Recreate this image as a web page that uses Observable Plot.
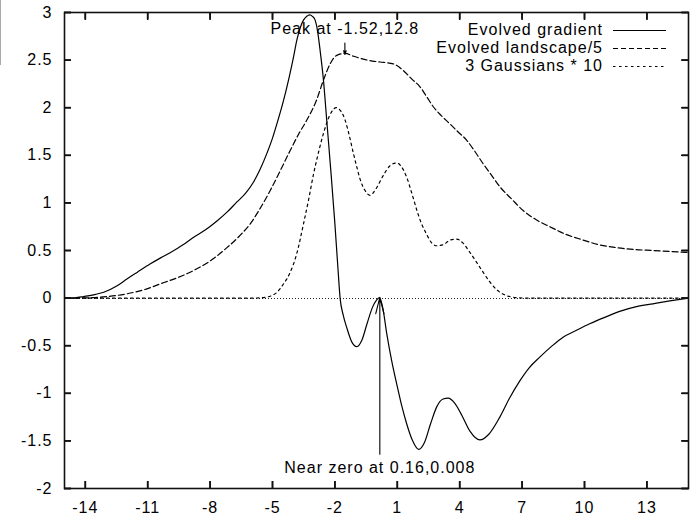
<!DOCTYPE html>
<html><head><meta charset="utf-8">
<script src="https://cdn.jsdelivr.net/npm/d3@7"></script>
<script src="https://cdn.jsdelivr.net/npm/@observablehq/plot@0.6"></script>
<style>
html,body{margin:0;padding:0;background:#fff;}
#wrap{position:relative;width:700px;height:519px;font-family:"Liberation Sans",Arial,sans-serif;color:#000;}
#legend{position:absolute;top:21px;right:34px;font-size:16px;letter-spacing:1px;}
.row{display:flex;align-items:center;justify-content:flex-end;height:18px;line-height:18px;}
.row svg{margin-left:10px;display:block;}
#edge{position:absolute;left:0;top:0;width:1px;height:65px;background:#aaa;}
</style></head><body>
<div id="wrap"><div id="edge"></div></div>
<script>
const xTicks = [-14, -11, -8, -5, -2, 1, 4, 7, 10, 13];
const yTicks = [-2, -1.5, -1, -0.5, 0, 0.5, 1, 1.5, 2, 2.5, 3];
const seriesNames = ["Evolved gradient", "Evolved landscape/5", "3 Gaussians * 10"];

const gradientX = [-15, -14.5, -14.07, -13.5, -13.11, -12.47, -12, -11.51, -10.87, -10.4, -9.9, -9.3, -8.79, -8.2, -7.67, -7.2, -6.71, -6.3, -5.91, -5.6, -5.27, -5.0, -4.79, -4.5, -4.23, -4.0, -3.83, -3.65, -3.51, -3.35, -3.22, -3.08, -2.95, -2.83, -2.71, -2.55, -2.39, -2.2, -2.0, -1.85, -1.75, -1.6, -1.43, -1.19, -0.95, -0.7, -0.47, -0.2, 0.0, 0.14, 0.3, 0.49, 0.75, 0.97, 1.2, 1.45, 1.7, 2.03, 2.3, 2.6, 2.9, 3.2, 3.45, 3.75, 4.1, 4.5, 4.97, 5.4, 5.93, 6.4, 6.89, 7.35, 7.85, 8.4, 8.97, 9.6, 10.25, 11.0, 11.69, 12.5, 13.29, 14.1, 15];
const gradientY = [0, 0.003, 0.017, 0.04, 0.062, 0.13, 0.2, 0.27, 0.36, 0.42, 0.48, 0.56, 0.64, 0.72, 0.81, 0.9, 1.01, 1.1, 1.22, 1.35, 1.52, 1.68, 1.83, 2.05, 2.29, 2.52, 2.71, 2.85, 2.92, 2.96, 2.975, 2.96, 2.92, 2.8, 2.6, 2.29, 1.86, 1.35, 0.78, 0.3, 0.0, -0.18, -0.31, -0.46, -0.51, -0.44, -0.28, -0.1, -0.02, 0.005, -0.1, -0.37, -0.68, -0.9, -1.12, -1.32, -1.48, -1.59, -1.52, -1.32, -1.14, -1.06, -1.05, -1.1, -1.23, -1.4, -1.49, -1.43, -1.25, -1.05, -0.87, -0.73, -0.62, -0.51, -0.41, -0.34, -0.27, -0.2, -0.14, -0.09, -0.06, -0.03, 0];

const landscapeX = [-15, -14, -13, -12, -11, -10.39, -9.5, -8.79, -8, -7.19, -6.6, -6.07, -5.6, -5.11, -4.6, -4.15, -3.75, -3.35, -2.9, -2.55, -2.23, -1.91, -1.51, -1.1, -0.63, -0.2, 0.17, 0.81, 1.0, 1.29, 1.7, 2.09, 2.4, 2.73, 3.1, 3.53, 3.9, 4.33, 4.7, 5.13, 5.5, 5.93, 6.5, 7.05, 7.7, 8.33, 9.1, 9.93, 10.7, 11.53, 12.4, 13.29, 14.1, 15];
const landscapeY = [0, 0.002, 0.015, 0.045, 0.1, 0.15, 0.22, 0.29, 0.39, 0.53, 0.65, 0.78, 0.94, 1.13, 1.35, 1.55, 1.72, 1.87, 2.07, 2.29, 2.46, 2.55, 2.57, 2.54, 2.51, 2.49, 2.48, 2.46, 2.44, 2.39, 2.3, 2.22, 2.12, 2.01, 1.92, 1.83, 1.75, 1.66, 1.55, 1.41, 1.3, 1.17, 1.04, 0.92, 0.82, 0.75, 0.67, 0.61, 0.56, 0.53, 0.51, 0.5, 0.49, 0.48];

const gaussX = [-15, -6, -5.3, -5.0, -4.79, -4.5, -4.15, -3.83, -3.51, -3.25, -3.03, -2.8, -2.55, -2.25, -1.94, -1.7, -1.51, -1.3, -1.11, -0.95, -0.79, -0.55, -0.31, -0.05, 0.33, 0.65, 0.97, 1.2, 1.45, 1.7, 1.93, 2.15, 2.41, 2.65, 2.89, 3.2, 3.55, 3.85, 4.15, 4.49, 4.8, 5.13, 5.45, 5.77, 6.2, 6.73, 7.2, 15];
const gaussY = [0, 0, 0.01, 0.03, 0.06, 0.14, 0.27, 0.47, 0.78, 1.05, 1.3, 1.52, 1.73, 1.92, 2.0, 1.96, 1.87, 1.7, 1.52, 1.38, 1.25, 1.13, 1.08, 1.14, 1.29, 1.39, 1.42, 1.38, 1.27, 1.1, 0.93, 0.79, 0.67, 0.58, 0.55, 0.56, 0.61, 0.62, 0.58, 0.48, 0.38, 0.27, 0.17, 0.09, 0.03, 0.005, 0, 0];

const noteText = ["Peak at -1.52,12.8", "Near zero at 0.16,0.008"];
const noteX = [-1.52, 0.16];
const noteTipY = [2.56, 0.008];
const noteTailY = [2.68, -1.64];
const noteTextY = [2.83, -1.78];

const W = 700, H = 519, mL = 64, mR = 12, mT = 12, mB = 31, TICK = 7;
const innerW = W - mL - mR, innerH = H - mT - mB;

const pts = (X, Y) => X.map((x, i) => ({x, y: Y[i]}));
const notes = noteText.map((t, i) => ({t, x: noteX[i], tip: noteTipY[i], tail: noteTailY[i], ty: noteTextY[i]}));
const fmt = d => String(d);
const noText = () => "";
const edge = {stroke: "#111", strokeWidth: 1.6};

const chart = Plot.plot({
  width: W, height: H,
  marginLeft: mL, marginRight: mR, marginTop: mT, marginBottom: mB,
  style: {fontFamily: '"Liberation Sans", Arial, sans-serif', fontSize: "16px", letterSpacing: "1px", color: "#000", background: "#fff"},
  x: {domain: [-15, 15], label: null},
  y: {domain: [-2, 3], label: null},
  marks: [
    Plot.ruleY([0], {stroke: "#222", strokeWidth: 1, strokeDasharray: "1,2", shapeRendering: "crispEdges"}),
    Plot.line(pts(gaussX, gaussY), {x: "x", y: "y", curve: "monotone-x", stroke: "#000", strokeWidth: 1.2, strokeDasharray: "2.5,3.5"}),
    Plot.line(pts(landscapeX, landscapeY), {x: "x", y: "y", curve: "monotone-x", stroke: "#000", strokeWidth: 1.2, strokeDasharray: "6,3"}),
    Plot.line(pts(gradientX, gradientY), {x: "x", y: "y", curve: "monotone-x", stroke: "#000", strokeWidth: 1.2}),
    Plot.arrow([notes[0]], {x1: "x", x2: "x", y1: "tail", y2: "tip", stroke: "#000", strokeWidth: 1.1, headLength: 8, headAngle: 40}),
    Plot.arrow([notes[1]], {x1: "x", x2: "x", y1: "tail", y2: "tip", stroke: "#000", strokeWidth: 1.1, headLength: 23, headAngle: 28}),
    Plot.text(notes, {x: "x", y: "ty", text: "t", textAnchor: "middle", fill: "#000", fontSize: 16}),
    Plot.frame(edge),
    Plot.axisX(xTicks, {anchor: "bottom", tickSize: 0, tickPadding: 13, tickFormat: fmt, label: null}),
    Plot.axisY(yTicks, {anchor: "left", tickSize: 0, tickPadding: 12, tickFormat: fmt, label: null}),
    Plot.tickX(xTicks, {x: d => d, insetTop: innerH - TICK, ...edge}),
    Plot.tickX(xTicks, {x: d => d, insetBottom: innerH - TICK, ...edge}),
    Plot.tickY(yTicks, {y: d => d, insetRight: innerW - TICK, ...edge}),
    Plot.tickY(yTicks, {y: d => d, insetLeft: innerW - TICK, ...edge}),
    Plot.axisX(xTicks, {anchor: "top", tickSize: -TICK, tickFormat: noText, label: null, ...edge}),
    Plot.axisX(xTicks, {anchor: "bottom", tickSize: -TICK, tickFormat: noText, label: null, ...edge}),
    Plot.axisY(yTicks, {anchor: "left", tickSize: -TICK, tickFormat: noText, label: null, ...edge}),
    Plot.axisY(yTicks, {anchor: "right", tickSize: -TICK, tickFormat: noText, label: null, ...edge})
  ]
});
const wrap = document.getElementById("wrap");
wrap.appendChild(chart);

const dashes = ["", "5,3", "2.5,3.5"];
const legend = document.createElement("div");
legend.id = "legend";
seriesNames.forEach((name, i) => {
  const row = document.createElement("div");
  row.className = "row";
  const span = document.createElement("span");
  span.textContent = name;
  row.appendChild(span);
  const ns = "http://www.w3.org/2000/svg";
  const s = document.createElementNS(ns, "svg");
  s.setAttribute("width", 53); s.setAttribute("height", 18);
  const l = document.createElementNS(ns, "line");
  l.setAttribute("x1", 0); l.setAttribute("x2", 53);
  l.setAttribute("y1", 9.5); l.setAttribute("y2", 9.5);
  l.setAttribute("stroke", "#000");
  l.setAttribute("stroke-width", 1.2);
  if (dashes[i]) l.setAttribute("stroke-dasharray", dashes[i]);
  s.appendChild(l);
  row.appendChild(s);
  legend.appendChild(row);
});
wrap.appendChild(legend);
</script>
</body></html>
